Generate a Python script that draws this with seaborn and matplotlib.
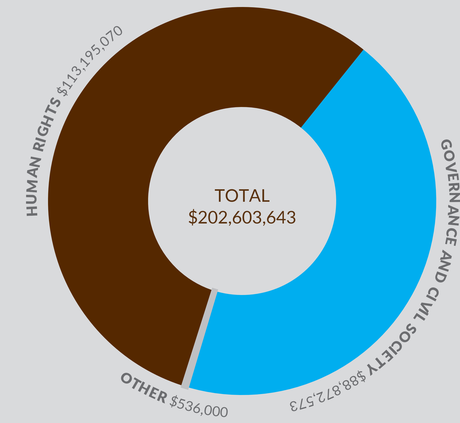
import io
import numpy as np
import matplotlib
matplotlib.use("Agg")
import matplotlib.pyplot as plt
import seaborn as sns
from PIL import Image
from matplotlib.patches import Wedge
from matplotlib.font_manager import FontProperties, findfont
from matplotlib.ft2font import FT2Font

# Funding by program area (USD)
categories = ["GOVERNANCE AND CIVIL SOCIETY", "OTHER", "HUMAN RIGHTS"]
amounts = [88872573, 536000, 113195070]
colors = ["#00aeef", "#bfc0c3", "#552800"]

BG = "#d9dadc"
LABEL_GRAY = "#6b6c6f"
TOTAL_BROWN = "#5a3210"
W, H = 460, 423
DPI = 100
SUPERSAMPLE = 4  # draw large, then scale down for smooth per-letter placement

sns.set_theme(style="white", rc={"figure.facecolor": BG, "axes.facecolor": BG})
plt.rcParams["font.family"] = ["Lato", "DejaVu Sans"]

fig = plt.figure(figsize=(W / DPI, H / DPI), dpi=DPI)
ax = fig.add_axes([0, 0, 1, 1])

cx, cy = 242, H - 201
r_out, r_in = 194, 94

wedges, _ = ax.pie(
    amounts,
    colors=colors,
    startangle=51.3,
    counterclock=False,
    radius=r_out,
    center=(cx, cy),
    wedgeprops=dict(width=r_out - r_in, linewidth=0),
    frame=True,
)

# keep the thin "other" slice visible: stroke it, clipped to the ring
ring = Wedge((cx, cy), r_out, 0, 360, width=r_out - r_in, transform=ax.transData)
thin = wedges[1]
thin.set_edgecolor(colors[1])
thin.set_linewidth(3.4)
thin.set_zorder(3)
thin.set_clip_path(ring)

ax.set_xlim(0, W)
ax.set_ylim(0, H)
ax.set_aspect("equal")
ax.axis("off")

# centre label
total = sum(amounts)
ax.text(cx, cy + 4, "TOTAL", ha="center", va="center", fontsize=12.5,
        color=TOTAL_BROWN, family=["Lato", "DejaVu Sans"])
ax.text(cx, cy - 17, f"${total:,}", ha="center", va="center", fontsize=12.5,
        color=TOTAL_BROWN, family=["Lato", "DejaVu Sans"])

# curved labels around the ring
fp_bold = FontProperties(family="Lato", weight="heavy", size=10.3)
fp_reg = FontProperties(family="Lato", weight="normal", size=10)

_fonts = {}


def glyph_metrics(ch, fp):
    """Advance, ink offset and ink width of one glyph, in 100-dpi pixels."""
    path = findfont(fp)
    key = (path, fp.get_size_in_points())
    if key not in _fonts:
        f = FT2Font(path)
        f.set_size(fp.get_size_in_points(), DPI * SUPERSAMPLE)
        _fonts[key] = f
    g = _fonts[key].load_char(ord(ch))
    k = float(SUPERSAMPLE)
    adv = g.linearHoriAdvance / 65536.0 / k
    return adv, g.horiBearingX / 64.0 / k, g.width / 64.0 / k


def arc_text(segments, r, theta0, clockwise):
    pos = 0.0
    items = []
    for text, fp, track in segments:
        for ch in text:
            adv, bear, ink = glyph_metrics(ch, fp)
            if ch != " ":
                items.append((ch, fp, pos + bear + ink / 2))
            pos += adv + track
    sign = -1 if clockwise else 1
    for ch, fp, p in items:
        th = theta0 + sign * np.degrees(p / r)
        x = cx + r * np.cos(np.radians(th))
        y = cy + r * np.sin(np.radians(th))
        rot = th - 90 if clockwise else th + 90
        ax.text(x, y, ch, fontproperties=fp, color=LABEL_GRAY, rotation=rot,
                rotation_mode="anchor", ha="center", va="baseline")


label_layout = {
    "HUMAN RIGHTS": dict(r=206, theta0=184.0, clockwise=True),
    "GOVERNANCE AND CIVIL SOCIETY": dict(r=206, theta0=17.0, clockwise=True),
    "OTHER": dict(r=217, theta0=235.3, clockwise=False),
}

for name, value in zip(categories, amounts):
    lay = label_layout[name]
    arc_text([(name + " ", fp_bold, 0.6), (f"${value:,}", fp_reg, 0.2)],
             lay["r"], lay["theta0"], lay["clockwise"])

buf = io.BytesIO()
fig.savefig(buf, format="png", dpi=DPI * SUPERSAMPLE, facecolor=BG)
buf.seek(0)
Image.open(buf).convert("RGB").resize((W, H), Image.LANCZOS).save("out.png")
